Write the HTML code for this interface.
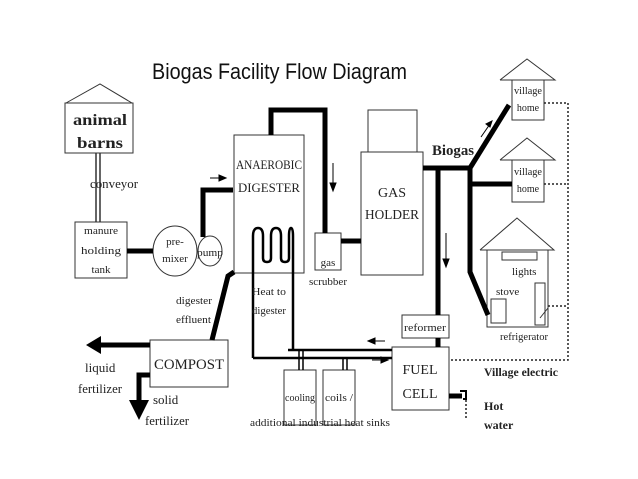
<!DOCTYPE html>
<html><head><style>
body{margin:0;background:#fff}
svg{display:block}
.s{font-family:"Liberation Serif",serif;fill:#222}
</style></head><body>
<svg width="638" height="479" viewBox="0 0 638 479" xmlns="http://www.w3.org/2000/svg">
<rect width="638" height="479" fill="#fff"/>
<text x="152" y="79" font-family="Liberation Sans,sans-serif" font-size="22" fill="#111" textLength="255" lengthAdjust="spacingAndGlyphs">Biogas Facility Flow Diagram</text>
<g fill="none" stroke="#333" stroke-width="1">
<polyline points="66,103 100,84 132,103"/>
<rect x="65" y="103" width="68" height="50"/>
<line x1="96" y1="153" x2="96" y2="222" stroke-width="1.5"/>
<line x1="100" y1="153" x2="100" y2="222" stroke-width="1.5"/>
<rect x="75" y="222" width="52" height="56"/>
<ellipse cx="175" cy="251" rx="22" ry="25"/>
<ellipse cx="210" cy="251" rx="12" ry="15"/>
<rect x="234" y="135" width="70" height="138"/>
<rect x="315" y="233" width="26" height="37"/>
<rect x="368" y="110" width="49" height="42"/>
<rect x="361" y="152" width="62" height="123"/>
<polyline points="500,80 527,59 555,80 500,80"/>
<rect x="512" y="80" width="32" height="40"/>
<polyline points="500,160 527,138 555,160 500,160"/>
<rect x="512" y="160" width="32" height="42"/>
<polyline points="480,250 517,218 554,250 480,250"/>
<rect x="487" y="250" width="61" height="77"/>
<rect x="502" y="252" width="35" height="8"/>
<rect x="491" y="299" width="15" height="24"/>
<rect x="535" y="283" width="10" height="42"/>
<line x1="540" y1="318" x2="548" y2="308"/>
<rect x="402" y="315" width="47" height="23"/>
<rect x="392" y="347" width="57" height="63"/>
<rect x="150" y="340" width="78" height="47"/>
<rect x="284" y="370" width="32" height="55"/>
<rect x="323" y="370" width="32" height="55"/>
</g>
<g fill="none" stroke="#222" stroke-width="1.5" stroke-dasharray="2,2">
<polyline points="544,103 568,103 568,360 449,360"/>
<line x1="544" y1="184" x2="568" y2="184"/>
<line x1="548" y1="306" x2="568" y2="306"/>
<line x1="466" y1="400" x2="466" y2="418"/>
</g>
<g fill="none" stroke="#000" stroke-width="5">
<line x1="127" y1="251" x2="153" y2="251"/>
<polyline points="203,237 203,190 233,190"/>
<polyline points="271,135 271,110 325,110 325,233"/>
<line x1="341" y1="241" x2="361" y2="241"/>
<line x1="423" y1="168" x2="470" y2="168"/>
<polyline points="438,168 438,315"/>
<line x1="438" y1="338" x2="438" y2="347"/>
<line x1="470" y1="168" x2="509" y2="105"/>
<line x1="470" y1="184" x2="512" y2="184"/>
<polyline points="470,168 470,272 488,315"/>
<polyline points="234,272 228,276 212,340"/>
<polyline points="150,345 100,345"/>
<polyline points="150,375 139,375 139,402"/>
<line x1="449" y1="396" x2="462" y2="396"/>
</g>
<polygon points="86,345 101,336 101,354" fill="#000"/>
<polygon points="129,400 149,400 139,420" fill="#000"/>
<path d="M460,391 h6 v8 h-3" fill="none" stroke="#000" stroke-width="2"/>
<g fill="none" stroke="#000" stroke-width="2.5">
<path d="M253,358 V236 q0,-8 5,-8 q5,0 5,8 v22 q0,4 4,4 q4,0 4,-4 v-22 q0,-8 5,-8 q5,0 5,8 v22 q0,4 4,4 q4,0 4,-4 v-22 q0,-8 2,-8 q2,0 2,8 V350"/>
<polyline points="253,358 392,358"/>
<polyline points="288,350 392,350"/>
<line x1="299" y1="350" x2="299" y2="370" stroke-width="1.5"/>
<line x1="303" y1="350" x2="303" y2="370" stroke-width="1.5"/>
<line x1="343" y1="358" x2="343" y2="370" stroke-width="1.5"/>
<line x1="347" y1="358" x2="347" y2="370" stroke-width="1.5"/>
</g>
<g stroke="#000" stroke-width="1" fill="#000">
<line x1="210" y1="178" x2="222" y2="178"/><polygon points="226,178 219,175 219,181"/>
<line x1="333" y1="163" x2="333" y2="186"/><polygon points="333,191 330,183 336,183"/>
<line x1="446" y1="233" x2="446" y2="262"/><polygon points="446,267 443,259 449,259"/>
<line x1="481" y1="137" x2="490" y2="124"/><polygon points="492,121 486,124 490,127"/>
<line x1="373" y1="341" x2="385" y2="341"/><polygon points="368,341 375,338 375,344"/>
<line x1="372" y1="360" x2="383" y2="360"/><polygon points="388,360 381,357 381,363"/>
</g>
<g class="s">
<text x="100" y="125" font-size="16" font-weight="bold" text-anchor="middle" textLength="54" lengthAdjust="spacingAndGlyphs">animal</text>
<text x="100" y="148" font-size="16" font-weight="bold" text-anchor="middle" textLength="46" lengthAdjust="spacingAndGlyphs">barns</text>
<text x="90" y="188" font-size="13" textLength="48" lengthAdjust="spacingAndGlyphs">conveyor</text>
<text x="101" y="234" font-size="11" text-anchor="middle" textLength="34" lengthAdjust="spacingAndGlyphs">manure</text>
<text x="101" y="254" font-size="11" text-anchor="middle" textLength="40" lengthAdjust="spacingAndGlyphs">holding</text>
<text x="101" y="273" font-size="11" text-anchor="middle">tank</text>
<text x="175" y="245" font-size="11" text-anchor="middle">pre-</text>
<text x="175" y="262" font-size="11" text-anchor="middle">mixer</text>
<text x="210" y="256" font-size="11" text-anchor="middle" textLength="26" lengthAdjust="spacingAndGlyphs">pump</text>
<text x="269" y="169" font-size="13" text-anchor="middle" textLength="66" lengthAdjust="spacingAndGlyphs">ANAEROBIC</text>
<text x="269" y="192" font-size="13" text-anchor="middle" textLength="62" lengthAdjust="spacingAndGlyphs">DIGESTER</text>
<text x="328" y="266" font-size="11" text-anchor="middle">gas</text>
<text x="328" y="285" font-size="11" text-anchor="middle" textLength="38" lengthAdjust="spacingAndGlyphs">scrubber</text>
<text x="392" y="197" font-size="14" text-anchor="middle">GAS</text>
<text x="392" y="219" font-size="14" text-anchor="middle" textLength="54" lengthAdjust="spacingAndGlyphs">HOLDER</text>
<text x="432" y="155" font-size="15" font-weight="bold" textLength="42" lengthAdjust="spacingAndGlyphs">Biogas</text>
<text x="528" y="94" font-size="10" text-anchor="middle" textLength="28" lengthAdjust="spacingAndGlyphs">village</text>
<text x="528" y="111" font-size="10" text-anchor="middle">home</text>
<text x="528" y="175" font-size="10" text-anchor="middle" textLength="28" lengthAdjust="spacingAndGlyphs">village</text>
<text x="528" y="192" font-size="10" text-anchor="middle">home</text>
<text x="512" y="275" font-size="11">lights</text>
<text x="496" y="295" font-size="11">stove</text>
<text x="500" y="340" font-size="11" textLength="48" lengthAdjust="spacingAndGlyphs">refrigerator</text>
<text x="425" y="331" font-size="11" text-anchor="middle" textLength="42" lengthAdjust="spacingAndGlyphs">reformer</text>
<text x="420" y="374" font-size="14" text-anchor="middle">FUEL</text>
<text x="420" y="398" font-size="14" text-anchor="middle">CELL</text>
<text x="484" y="376" font-size="12" font-weight="bold" textLength="74" lengthAdjust="spacingAndGlyphs">Village electric</text>
<text x="484" y="410" font-size="12" font-weight="bold">Hot</text>
<text x="484" y="429" font-size="12" font-weight="bold">water</text>
<text x="252" y="295" font-size="11" textLength="34" lengthAdjust="spacingAndGlyphs">Heat to</text>
<text x="252" y="314" font-size="11" textLength="34" lengthAdjust="spacingAndGlyphs">digester</text>
<text x="176" y="304" font-size="11" textLength="36" lengthAdjust="spacingAndGlyphs">digester</text>
<text x="176" y="323" font-size="11" textLength="35" lengthAdjust="spacingAndGlyphs">effluent</text>
<text x="189" y="369" font-size="15" text-anchor="middle" textLength="70" lengthAdjust="spacingAndGlyphs">COMPOST</text>
<text x="85" y="372" font-size="13">liquid</text>
<text x="78" y="393" font-size="13" textLength="44" lengthAdjust="spacingAndGlyphs">fertilizer</text>
<text x="153" y="404" font-size="13">solid</text>
<text x="145" y="425" font-size="13" textLength="44" lengthAdjust="spacingAndGlyphs">fertilizer</text>
<text x="285" y="401" font-size="11" textLength="30" lengthAdjust="spacingAndGlyphs">cooling</text>
<text x="325" y="401" font-size="11" textLength="28" lengthAdjust="spacingAndGlyphs">coils /</text>
<text x="250" y="426" font-size="11" textLength="140" lengthAdjust="spacingAndGlyphs">additional industrial heat sinks</text>
</g>
</svg>
</body></html>
